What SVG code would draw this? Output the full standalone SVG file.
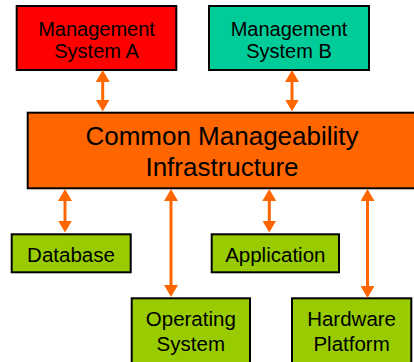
<svg xmlns="http://www.w3.org/2000/svg" width="414" height="362" viewBox="0 0 414 362">
<style>
.box{stroke:#000;stroke-width:2}
.t{font-family:"Liberation Sans",Arial,sans-serif;font-size:20.5px;fill:#000;text-anchor:middle}
.m{font-size:20px}
.big{font-size:26px}
.c{stroke:#FF6600;stroke-width:3;fill:none}
</style>
<defs>
<marker id="ah" viewBox="0 0 12 14" refX="2" refY="7" markerWidth="12" markerHeight="14" markerUnits="userSpaceOnUse" orient="auto-start-reverse">
<path d="M0,0 L12,7 L0,14 z" fill="#FF6600"/>
</marker>
</defs>
<rect width="414" height="362" fill="#fff"/>
<g id="msA">
<rect class="box" x="16.7" y="6" width="159.6" height="64" fill="#FF0000"/>
<text class="t m" x="96.5" y="35.5">Management</text>
<text class="t m" x="96.5" y="58">System A</text>
</g>
<g id="msB">
<rect class="box" x="209" y="6" width="160" height="64" fill="#00CC99"/>
<text class="t m" x="289" y="35.5">Management</text>
<text class="t m" x="289" y="58">System B</text>
</g>
<g id="cmi">
<rect class="box" x="27.7" y="112.7" width="400" height="75.6" fill="#FF6600"/>
<text class="t big" x="222" y="145">Common Manageability</text>
<text class="t big" x="222" y="176">Infrastructure</text>
</g>
<g id="database">
<rect class="box" x="11.7" y="234.3" width="119" height="38" fill="#99CC00"/>
<text class="t" x="71" y="261.5">Database</text>
</g>
<g id="application">
<rect class="box" x="211.7" y="234.3" width="127.3" height="38" fill="#99CC00"/>
<text class="t" x="275.3" y="261.5">Application</text>
</g>
<g id="os">
<rect class="box" x="131.7" y="298.3" width="118.3" height="80" fill="#99CC00"/>
<text class="t" x="190.8" y="326">Operating</text>
<text class="t" x="190.8" y="350.7">System</text>
</g>
<g id="hw">
<rect class="box" x="292" y="298.3" width="119.3" height="80" fill="#99CC00"/>
<text class="t" x="351.6" y="326">Hardware</text>
<text class="t" x="351.6" y="350.7">Platform</text>
</g>
<g id="connectors">
<line class="c" x1="102.7" y1="80" x2="102.7" y2="101.5" marker-start="url(#ah)" marker-end="url(#ah)"/>
<line class="c" x1="292" y1="80" x2="292" y2="101.5" marker-start="url(#ah)" marker-end="url(#ah)"/>
<line class="c" x1="65" y1="199" x2="65" y2="222.5" marker-start="url(#ah)" marker-end="url(#ah)"/>
<line class="c" x1="171" y1="199" x2="171" y2="287" marker-start="url(#ah)" marker-end="url(#ah)"/>
<line class="c" x1="269.3" y1="199" x2="269.3" y2="222.5" marker-start="url(#ah)" marker-end="url(#ah)"/>
<line class="c" x1="367.5" y1="199" x2="367.5" y2="288" marker-start="url(#ah)" marker-end="url(#ah)"/>
</g>
</svg>
